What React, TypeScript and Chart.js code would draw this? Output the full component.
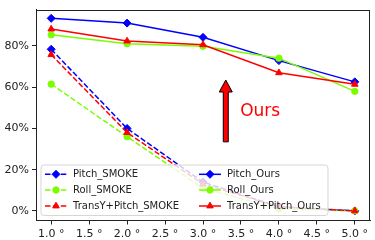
import React, { useEffect, useRef } from "react";
import { Chart, registerables } from "chart.js";

Chart.register(...registerables);

const angles = [1.0, 2.0, 3.0, 4.0, 5.0];
const xTicks = [1.0, 1.5, 2.0, 2.5, 3.0, 3.5, 4.0, 4.5, 5.0];
const yTicks = [0, 20, 40, 60, 80];

const pitchSmoke = [78.4, 40.0, 14.0, 2.0, 0.0];
const rollSmoke = [61.5, 36.0, 11.0, 1.0, 0.0];
const transSmoke = [75.8, 38.0, 13.0, 2.0, 0.0];
const pitchOurs = [93.4, 91.1, 84.2, 72.9, 62.6];
const rollOurs = [85.4, 81.1, 79.9, 74.1, 58.0];
const transOurs = [88.2, 82.4, 80.6, 67.0, 61.4];

const seriesNames = [
  "Pitch_SMOKE",
  "Roll_SMOKE",
  "TransY+Pitch_SMOKE",
  "Pitch_Ours",
  "Roll_Ours",
  "TransY+Pitch_Ours",
];
const seriesValues = [pitchSmoke, rollSmoke, transSmoke, pitchOurs, rollOurs, transOurs];
const seriesColors = ["#0000ff", "#7cfc00", "#ff0000", "#0000ff", "#7cfc00", "#ff0000"];
const seriesMarkers = ["rectRot", "circle", "triangle", "rectRot", "circle", "triangle"];
const seriesDashed = [true, true, true, false, false, false];

const annotationText = "Ours";
const arrowX = 3.3;
const arrowFrom = 33.5;
const arrowTo = 63.5;
const textX = 3.49;
const textY = 48.3;

const FONT = "'DejaVu Sans', sans-serif";
const INK = "#222";
const DASH = [5.5, 2.4];

function markerRadius(m: string) {
  return m === "rectRot" ? 4 : m === "circle" ? 3.2 : 3.8;
}

const overlayPlugin = {
  id: "overlay",
  afterDraw(chart: any) {
    const { ctx, chartArea, scales } = chart;
    const xs = scales.x;
    const ys = scales.y;
    ctx.save();
    // frame
    ctx.strokeStyle = INK;
    ctx.lineWidth = 1;
    ctx.strokeRect(
      Math.round(chartArea.left) + 0.5,
      Math.round(chartArea.top) + 0.5,
      Math.round(chartArea.right - chartArea.left) - 1,
      Math.round(chartArea.bottom - chartArea.top) - 1
    );

    // arrow
    const ax = xs.getPixelForValue(arrowX);
    const y0 = ys.getPixelForValue(arrowFrom);
    const y1 = ys.getPixelForValue(arrowTo);
    const sw = 2.5;
    const hw = 6.5;
    const hl = 12;
    ctx.beginPath();
    ctx.moveTo(ax - sw, y0);
    ctx.lineTo(ax - sw, y1 + hl);
    ctx.lineTo(ax - hw, y1 + hl);
    ctx.lineTo(ax, y1);
    ctx.lineTo(ax + hw, y1 + hl);
    ctx.lineTo(ax + sw, y1 + hl);
    ctx.lineTo(ax + sw, y0);
    ctx.closePath();
    ctx.fillStyle = "#ff0000";
    ctx.fill();
    ctx.strokeStyle = "#000";
    ctx.lineWidth = 1;
    ctx.stroke();

    // text
    ctx.fillStyle = "#ff0000";
    ctx.font = `17px ${FONT}`;
    ctx.textAlign = "left";
    ctx.textBaseline = "middle";
    ctx.fillText(annotationText, xs.getPixelForValue(textX), ys.getPixelForValue(textY));

    // legend
    const lx = chartArea.left + 5;
    const lb = chartArea.bottom - 5;
    const lw = 287;
    const lh = 50.5;
    const ly = lb - lh;
    const r = 3;
    ctx.beginPath();
    ctx.moveTo(lx + r, ly);
    ctx.lineTo(lx + lw - r, ly);
    ctx.quadraticCurveTo(lx + lw, ly, lx + lw, ly + r);
    ctx.lineTo(lx + lw, ly + lh - r);
    ctx.quadraticCurveTo(lx + lw, ly + lh, lx + lw - r, ly + lh);
    ctx.lineTo(lx + r, ly + lh);
    ctx.quadraticCurveTo(lx, ly + lh, lx, ly + lh - r);
    ctx.lineTo(lx, ly + r);
    ctx.quadraticCurveTo(lx, ly, lx + r, ly);
    ctx.closePath();
    ctx.fillStyle = "rgba(255,255,255,0.8)";
    ctx.fill();
    ctx.strokeStyle = "rgba(204,204,204,0.8)";
    ctx.lineWidth = 1;
    ctx.stroke();

    const colX = [lx + 4, lx + 158];
    const rowY = [ly + 9.3, ly + 25, ly + 41];
    ctx.font = `10px ${FONT}`;
    ctx.textBaseline = "middle";
    for (let i = 0; i < seriesNames.length; i++) {
      const col = Math.floor(i / 3);
      const row = i % 3;
      const hx0 = colX[col];
      const hx1 = hx0 + 22;
      const cy = rowY[row];
      ctx.strokeStyle = seriesColors[i];
      ctx.lineWidth = 1.5;
      ctx.setLineDash(seriesDashed[i] ? DASH : []);
      ctx.beginPath();
      ctx.moveTo(hx0, cy);
      ctx.lineTo(hx1, cy);
      ctx.stroke();
      ctx.setLineDash([]);
      ctx.fillStyle = seriesColors[i];
      ctx.lineWidth = 1;
      (Chart as any).helpers?.drawPoint
        ? null
        : null;
      drawMarker(ctx, seriesMarkers[i], (hx0 + hx1) / 2, cy, markerRadius(seriesMarkers[i]), seriesColors[i]);
      ctx.fillStyle = INK;
      ctx.textAlign = "left";
      ctx.fillText(seriesNames[i], hx1 + 6, cy + 0.5);
    }
    ctx.restore();
  },
};

function drawMarker(ctx: CanvasRenderingContext2D, m: string, x: number, y: number, r: number, color: string) {
  ctx.save();
  ctx.fillStyle = color;
  ctx.strokeStyle = color;
  ctx.lineWidth = 1;
  ctx.beginPath();
  if (m === "rectRot") {
    ctx.moveTo(x, y - r);
    ctx.lineTo(x + r, y);
    ctx.lineTo(x, y + r);
    ctx.lineTo(x - r, y);
  } else if (m === "circle") {
    ctx.arc(x, y, r, 0, Math.PI * 2);
  } else {
    const h = r * 1.5;
    ctx.moveTo(x, y - r);
    ctx.lineTo(x + r * 0.866, y + r / 2);
    ctx.lineTo(x - r * 0.866, y + r / 2);
    void h;
  }
  ctx.closePath();
  ctx.fill();
  ctx.stroke();
  ctx.restore();
}

export default function App() {
  const ref = useRef<HTMLCanvasElement | null>(null);
  useEffect(() => {
    if (!ref.current) return;
    const datasets = seriesNames.map((name, i) => ({
      label: name,
      data: angles.map((a, j) => ({ x: a, y: seriesValues[i][j] })),
      borderColor: seriesColors[i],
      backgroundColor: seriesColors[i],
      borderWidth: 1.5,
      borderDash: seriesDashed[i] ? DASH : [],
      pointStyle: seriesMarkers[i] as any,
      pointRadius: markerRadius(seriesMarkers[i]),
      pointBorderWidth: 1,
      pointBackgroundColor: seriesColors[i],
      pointBorderColor: seriesColors[i],
      fill: false,
      tension: 0,
      order: seriesNames.length - i,
    }));
    const chart = new Chart(ref.current, {
      type: "line",
      data: { datasets },
      options: {
        animation: false,
        responsive: true,
        maintainAspectRatio: false,
        layout: { padding: { top: 4.3, right: 4, left: 0, bottom: 0 } },
        plugins: { legend: { display: false }, tooltip: { enabled: false } },
        scales: {
          x: {
            type: "linear",
            min: 0.8,
            max: 5.2,
            afterBuildTicks: (s: any) => {
              s.ticks = xTicks.map((v) => ({ value: v }));
            },
            afterFit: (s: any) => {
              s.height = 19.5;
            },
            grid: { drawOnChartArea: false, drawTicks: true, tickLength: 4, color: INK },
            border: { display: true, color: INK, width: 1 },
            ticks: {
              color: INK,
              padding: 3,
              maxRotation: 0,
              autoSkip: false,
              font: { family: FONT, size: 11 },
              callback: (v: any) => `${Number(v).toFixed(1)} °`,
            },
          },
          y: {
            type: "linear",
            min: -4.65,
            max: 97.65,
            afterBuildTicks: (s: any) => {
              s.ticks = yTicks.map((v) => ({ value: v }));
            },
            afterFit: (s: any) => {
              s.width = 36;
            },
            grid: { drawOnChartArea: false, drawTicks: true, tickLength: 4, color: INK },
            border: { display: true, color: INK, width: 1 },
            ticks: {
              color: INK,
              padding: 3,
              autoSkip: false,
              font: { family: FONT, size: 11 },
              callback: (v: any) => `${v}%`,
            },
          },
        },
      },
      plugins: [overlayPlugin],
    });
    return () => chart.destroy();
  }, []);
  return (
    <div style={{ position: "absolute", left: 0, top: 0, width: 375, height: 240, background: "#fff" }}>
      <canvas ref={ref} />
    </div>
  );
}
